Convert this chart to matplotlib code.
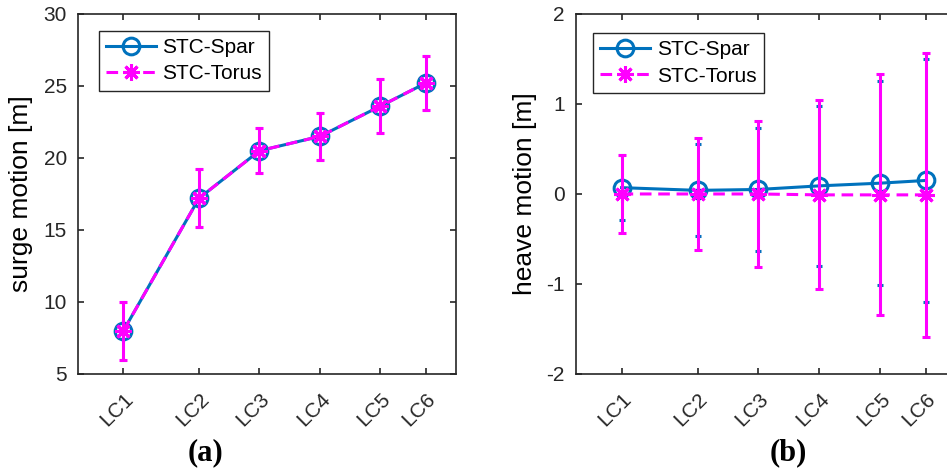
import matplotlib

matplotlib.use("Agg")
import matplotlib.pyplot as plt
from matplotlib.lines import Line2D
from matplotlib.transforms import ScaledTranslation

plt.rcParams["font.family"] = ["Liberation Sans", "DejaVu Sans"]
plt.rcParams["axes.unicode_minus"] = False

# load cases and their (wind-speed-like) positions on the x axis
lc_labels = ["LC1", "LC2", "LC3", "LC4", "LC5", "LC6"]
lc_x = [8, 13, 17, 21, 25, 28]

surge_spar = [8.0, 17.2, 20.5, 21.5, 23.6, 25.2]
surge_spar_err = [2.0, 2.0, 1.55, 1.65, 1.9, 1.9]
surge_torus = [8.0, 17.2, 20.5, 21.5, 23.6, 25.2]
surge_torus_err = [2.0, 2.0, 1.55, 1.65, 1.9, 1.9]

heave_spar = [0.07, 0.04, 0.05, 0.09, 0.12, 0.15]
heave_spar_err = [0.36, 0.51, 0.68, 0.89, 1.13, 1.35]
heave_torus = [0.0, 0.0, 0.0, -0.01, -0.01, -0.01]
heave_torus_err = [0.43, 0.62, 0.81, 1.05, 1.34, 1.58]

BLUE = "#0072BD"
MAG = "#FF00FF"
ASTER = (8, 2, 0)


def panel(fig, ax, spar, spar_err, torus, torus_err, ylim, yticks, ylabel,
          label_x, leg_anchor):
    ax.errorbar(lc_x, spar, yerr=spar_err, color=BLUE, lw=2.2, ls="-",
                marker="o", ms=12, mfc="none", mec=BLUE, mew=2.2,
                elinewidth=2.0, capsize=2.5, capthick=2.0, zorder=2)
    ax.errorbar(lc_x, torus, yerr=torus_err, color=MAG, lw=2.2, ls=(0, (3.8, 2.2)),
                marker=ASTER, ms=12, mec=MAG, mew=2.2,
                elinewidth=2.2, capsize=3, capthick=2.2, zorder=3)
    ax.set_xlim(5, 30)
    ax.set_ylim(*ylim)
    ax.set_yticks(yticks)
    ax.set_xticks(lc_x)
    ax.set_xticklabels(lc_labels, rotation=45, ha="right", va="center",
                       rotation_mode="anchor", fontsize=16.5)
    ax.tick_params(direction="in", length=4, width=1.2, labelsize=15, pad=8,
                   top=True, right=True, colors="#262626")
    ax.tick_params(axis="x", pad=16)
    shift = ScaledTranslation(7 / 100, 0, fig.dpi_scale_trans)
    for lab in ax.get_xticklabels():
        lab.set_transform(lab.get_transform() + shift)
    for s in ax.spines.values():
        s.set_linewidth(1.2)
        s.set_color("#262626")
    ax.set_ylabel(ylabel, fontsize=19)
    ax.yaxis.set_label_coords(label_x, 0.5)
    handles = [
        Line2D([], [], color=BLUE, lw=2.2, marker="o", ms=12, mfc="none", mew=2.2),
        Line2D([], [], color=MAG, lw=2.2, ls=(0, (3.8, 2.2)), marker=ASTER, ms=12, mew=2.2),
    ]
    leg = ax.legend(handles, ["STC-Spar", "STC-Torus"], loc="upper left",
                    bbox_to_anchor=leg_anchor, fontsize=15, fancybox=False,
                    edgecolor="#262626", framealpha=1, handlelength=2.4,
                    borderpad=0.35, labelspacing=0.35, handletextpad=0.3,
                    borderaxespad=0)
    leg.get_frame().set_linewidth(1.0)


fig = plt.figure(figsize=(9.47, 4.70), dpi=100)
ax1 = fig.add_axes([0.0824, 0.2043, 0.3991, 0.766])
ax2 = fig.add_axes([0.6082, 0.2043, 0.4013, 0.766])

panel(fig, ax1, surge_spar, surge_spar_err, surge_torus, surge_torus_err,
      (5, 30), [5, 10, 15, 20, 25, 30], "surge motion [m]", -0.119, (0.055, 0.953))
panel(fig, ax2, heave_spar, heave_spar_err, heave_torus, heave_torus_err,
      (-2, 2), [-2, -1, 0, 1, 2], "heave motion [m]", -0.103, (0.045, 0.947))

fig.text(0.2165, 0.036, "(a)", fontsize=22, fontweight="bold",
         family="Liberation Serif", ha="center", va="center")
fig.text(0.832, 0.036, "(b)", fontsize=22, fontweight="bold",
         family="Liberation Serif", ha="center", va="center")

fig.savefig("out.png", dpi=100)
